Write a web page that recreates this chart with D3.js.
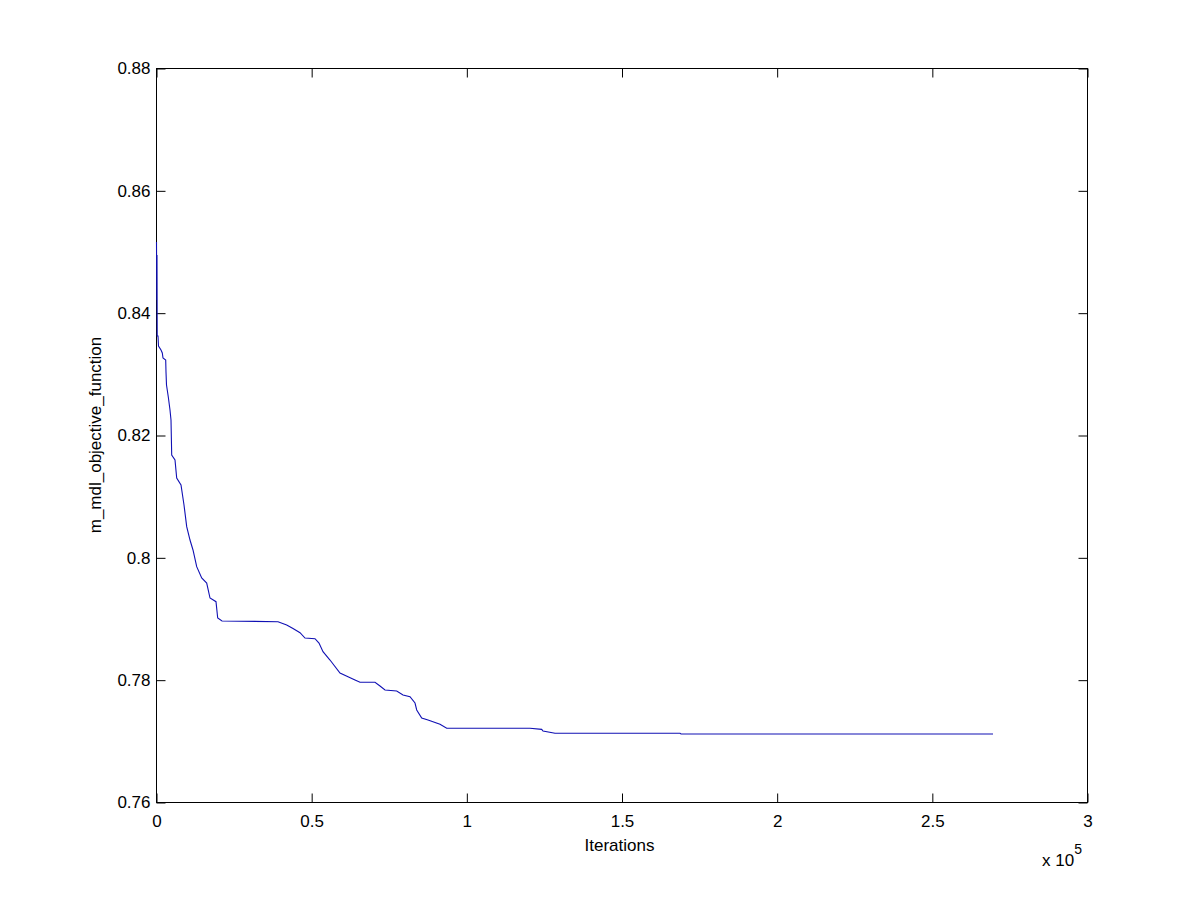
<!DOCTYPE html>
<html>
<head>
<meta charset="utf-8">
<script src="https://cdn.jsdelivr.net/npm/d3@7"></script>
<style>
  html, body { margin: 0; padding: 0; background: #fff; }
  text { font-family: "Liberation Sans", Arial, Helvetica, sans-serif; }
</style>
</head>
<body>
<svg id="chart" width="1201" height="901"></svg>
<script>
// Data
const iterations = [161, 258, 322, 387, 644, 806, 1611, 2030, 2256, 3126, 3222, 3384, 3964, 4511, 4834, 5059, 6123, 6670, 8056, 9023, 9893, 10956, 11923, 13115, 14726, 16338, 17401, 19334, 19882, 21268, 39313, 42117, 44147, 46403, 48014, 51236, 52525, 53814, 56070, 59292, 61870, 64126, 65737, 70571, 72182, 73793, 77564, 79594, 81850, 83461, 84009, 85620, 87650, 91517, 93676, 120518, 124288, 124707, 128574, 168854, 169176, 269713];
const objective = [0.85155, 0.84207, 0.84943, 0.83619, 0.83619, 0.83455, 0.83390, 0.83341, 0.83259, 0.83226, 0.83030, 0.82817, 0.82621, 0.82409, 0.82245, 0.81673, 0.81591, 0.81297, 0.81183, 0.80856, 0.80501, 0.80283, 0.80120, 0.79847, 0.79662, 0.79580, 0.79335, 0.79275, 0.79008, 0.78959, 0.78948, 0.78894, 0.78836, 0.78768, 0.78681, 0.78670, 0.78599, 0.78457, 0.78321, 0.78109, 0.78048, 0.77994, 0.77957, 0.77957, 0.77896, 0.77831, 0.77815, 0.77749, 0.77721, 0.77618, 0.77504, 0.77373, 0.77340, 0.77270, 0.77205, 0.77205, 0.77188, 0.77161, 0.77123, 0.77123, 0.77112, 0.77112];
const xTicks = [0, 50000, 100000, 150000, 200000, 250000, 300000];
const xTickLabels = ["0", "0.5", "1", "1.5", "2", "2.5", "3"];
const yTicks = [0.76, 0.78, 0.80, 0.82, 0.84, 0.86, 0.88];
const yTickLabels = ["0.76", "0.78", "0.8", "0.82", "0.84", "0.86", "0.88"];
const xLabel = "Iterations";
const yLabel = "m_mdl_objective_function";

const svg = d3.select("#chart");
const L = 156, R = 1087, T = 68, B = 802;

const x = d3.scaleLinear().domain([0, 300000]).range([L, R]);
const y = d3.scaleLinear().domain([0.76, 0.88]).range([B, T]);

const tickLen = 9;
const fontSize = 17;

// Box
svg.append("rect").attr("x", L + 0.5).attr("y", T + 0.5)
  .attr("width", R - L).attr("height", B - T)
  .attr("fill", "none").attr("stroke", "#000").attr("stroke-width", 1);

// Bottom axis (inward ticks)
const xAxisB = d3.axisBottom(x).tickValues(xTicks)
  .tickFormat((d, i) => xTickLabels[i]).tickSizeInner(-tickLen).tickSizeOuter(0).tickPadding(12);
const gxb = svg.append("g").attr("transform", `translate(0.5,${B + 0.5})`).call(xAxisB);
// Top axis ticks
const xAxisT = d3.axisTop(x).tickValues(xTicks).tickFormat("").tickSizeInner(-tickLen).tickSizeOuter(0);
const gxt = svg.append("g").attr("transform", `translate(0.5,${T + 0.5})`).call(xAxisT);
// Left axis
const yAxisL = d3.axisLeft(y).tickValues(yTicks)
  .tickFormat((d, i) => yTickLabels[i]).tickSizeInner(-tickLen).tickSizeOuter(0).tickPadding(6);
const gyl = svg.append("g").attr("transform", `translate(${L + 0.5},0.5)`).call(yAxisL);
// Right axis ticks
const yAxisR = d3.axisRight(y).tickValues(yTicks).tickFormat("").tickSizeInner(-tickLen).tickSizeOuter(0);
const gyr = svg.append("g").attr("transform", `translate(${R + 0.5},0.5)`).call(yAxisR);

[gxb, gxt, gyl, gyr].forEach(g => {
  g.select(".domain").remove();
  g.selectAll("line").attr("stroke", "#000");
  g.selectAll("text").attr("fill", "#000").style("font-size", fontSize + "px")
    .style("font-family", '"Liberation Sans", Arial, sans-serif');
});
gxb.selectAll("text").attr("dy", "0.71em");

// Line
const line = d3.line().x((d, i) => x(iterations[i])).y((d, i) => y(objective[i]));
svg.append("path").datum(objective)
  .attr("d", line).attr("fill", "none")
  .attr("stroke", "#1010b4").attr("stroke-width", 1.1);

// Axis labels
svg.append("text").attr("x", (L + R) / 2 - 2).attr("y", 851)
  .attr("text-anchor", "middle").style("font-size", fontSize + "px").text(xLabel);
svg.append("text")
  .attr("transform", `translate(101,${(T + B) / 2}) rotate(-90)`)
  .attr("text-anchor", "middle").style("font-size", fontSize + "px").text(yLabel);

// Exponent label
const ex = svg.append("text").attr("x", 1042).attr("y", 866).style("font-size", fontSize + "px");
ex.append("tspan").text("x 10");
ex.append("tspan").attr("dy", -12).style("font-size", "14px").text("5");
</script>
</body>
</html>
